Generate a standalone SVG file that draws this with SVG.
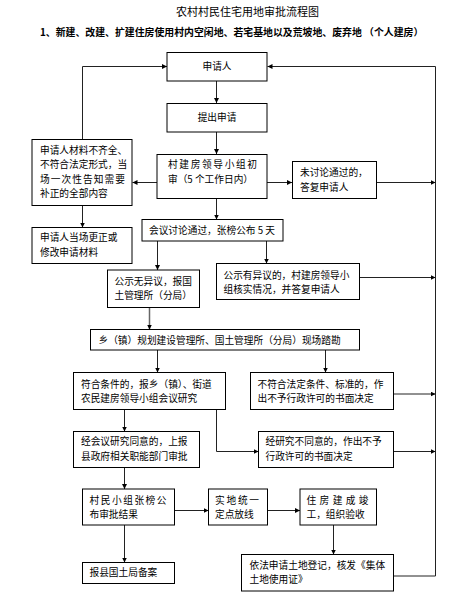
<svg xmlns="http://www.w3.org/2000/svg" width="466" height="608" viewBox="0 0 466 608">
<style>
rect.b{fill:#fff;stroke:#000;stroke-width:1}
text{font-family:"Noto Sans CJK SC","Liberation Sans",sans-serif;font-size:9.7px;fill:#000}
.t{font-size:11px}
.s{font-size:9.9px;font-weight:bold}
.c path,.c line,.c polyline{fill:none;stroke:#222;stroke-width:1}
</style>
<defs>
<marker id="a" markerUnits="userSpaceOnUse" markerWidth="6" markerHeight="6" refX="5" refY="2.5" orient="auto">
<path d="M0,0 L5,2.5 L0,5 z" fill="#000"/>
</marker>
</defs>
<rect width="466" height="608" fill="#fff"/>
<text class="t" x="247.5" y="15.5" text-anchor="middle">农村村民住宅用地审批流程图</text>
<text class="s" x="40" y="35.5">1、新建、改建、扩建住房使用村内空闲地、若宅基地以及荒坡地、废弃地 （个人建房）</text>

<g class="c">
<line x1="216.5" y1="81" x2="216.5" y2="103" marker-end="url(#a)"/>
<line x1="216.5" y1="132" x2="216.5" y2="154" marker-end="url(#a)"/>
<polyline points="82.5,139.5 82.5,66.5 167,66.5" marker-end="url(#a)"/>
<line x1="157" y1="182.5" x2="132.5" y2="182.5" marker-end="url(#a)"/>
<line x1="267" y1="182.5" x2="292" y2="182.5" marker-end="url(#a)"/>
<line x1="376.5" y1="182.5" x2="435.5" y2="182.5" marker-end="url(#a)"/>
<line x1="82.5" y1="205.5" x2="82.5" y2="227.5" marker-end="url(#a)"/>
<line x1="216.5" y1="198.5" x2="216.5" y2="219.5" marker-end="url(#a)"/>
<line x1="157.5" y1="241" x2="157.5" y2="270" marker-end="url(#a)"/>
<line x1="266.5" y1="241" x2="266.5" y2="263.5" marker-end="url(#a)"/>
<line x1="359.5" y1="277.5" x2="435.5" y2="277.5" marker-end="url(#a)"/>
<line x1="149.5" y1="307.5" x2="149.5" y2="329.5" marker-end="url(#a)" style="stroke:#666;stroke-width:1.5"/>
<line x1="157.5" y1="350" x2="157.5" y2="372.5" marker-end="url(#a)"/>
<line x1="325.5" y1="350" x2="325.5" y2="372.5" marker-end="url(#a)"/>
<line x1="393.5" y1="394" x2="435.5" y2="394" marker-end="url(#a)"/>
<line x1="124.5" y1="409.5" x2="124.5" y2="431.5" marker-end="url(#a)"/>
<polyline points="216.5,409.5 216.5,451.5 258.5,451.5" marker-end="url(#a)"/>
<line x1="393.5" y1="451.5" x2="435.5" y2="451.5" marker-end="url(#a)"/>
<line x1="124.5" y1="467.5" x2="124.5" y2="489" marker-end="url(#a)"/>
<line x1="174.5" y1="510.5" x2="208.5" y2="510.5" marker-end="url(#a)"/>
<line x1="267.5" y1="510.5" x2="300" y2="510.5" marker-end="url(#a)"/>
<line x1="333.5" y1="525" x2="333.5" y2="554.5" marker-end="url(#a)"/>
<line x1="124.5" y1="525" x2="124.5" y2="562.5" marker-end="url(#a)"/>
<polyline points="393.5,576 435.5,576 435.5,66.5 267.5,66.5" marker-end="url(#a)"/>
</g>

<g id="n1"><rect class="b" x="167" y="52.5" width="100" height="28.5"/><text x="217" y="70" text-anchor="middle">申请人</text></g>
<g id="n2"><rect class="b" x="167" y="103.5" width="100" height="28.5"/><text x="217" y="121" text-anchor="middle">提出申请</text></g>
<g id="n3"><rect class="b" x="32" y="139.5" width="100" height="66"/>
<text x="40" y="154">申请人材料不齐全、</text>
<text x="40" y="168">不符合法定形式，当</text>
<text x="40" y="182.5" textLength="85" lengthAdjust="spacing">场一次性告知需要</text>
<text x="40" y="196.5">补正的全部内容</text></g>
<g id="n4"><rect class="b" x="157" y="154.5" width="110" height="44"/>
<text x="168" y="168" textLength="89" lengthAdjust="spacing">村建房领导小组初</text>
<text x="168" y="183">审（5 个工作日内）</text></g>
<g id="n5"><rect class="b" x="292.5" y="161.5" width="84" height="37"/>
<text x="300" y="176">未讨论通过的，</text>
<text x="300" y="190.5">答复申请人</text></g>
<g id="n6"><rect class="b" x="32" y="227.5" width="100" height="36"/>
<text x="40" y="241">申请人当场更正或</text>
<text x="40" y="256">修改申请材料</text></g>
<g id="n7"><rect class="b" x="142" y="219.5" width="141" height="21.5"/>
<text x="149" y="233.5">会议讨论通过，张榜公布 5 天</text></g>
<g id="n8"><rect class="b" x="107.5" y="270" width="92" height="37.5"/>
<text x="114.5" y="285">公示无异议，报国</text>
<text x="114.5" y="298.5">土管理所（分局）</text></g>
<g id="n9"><rect class="b" x="216.5" y="263.5" width="143" height="36"/>
<text x="223.5" y="278.5">公示有异议的，村建房领导小</text>
<text x="223.5" y="292.5">组核实情况，并答复申请人</text></g>
<g id="n10"><rect class="b" x="90.5" y="329.5" width="269" height="20.5"/>
<text x="98.5" y="343.5">乡（镇）规划建设管理所、国土管理所（分局）现场踏勘</text></g>
<g id="n11"><rect class="b" x="73.5" y="372.5" width="152" height="37"/>
<text x="81" y="387.5">符合条件的，报乡（镇）、街道</text>
<text x="81" y="401.5">农民建房领导小组会议研究</text></g>
<g id="n12"><rect class="b" x="250.5" y="372.5" width="143" height="37"/>
<text x="257.5" y="387.5">不符合法定条件、标准的，作</text>
<text x="257.5" y="401.5">出不予行政许可的书面决定</text></g>
<g id="n13"><rect class="b" x="73.5" y="431.5" width="126" height="36"/>
<text x="81" y="445">经会议研究同意的，上报</text>
<text x="81" y="460">县政府相关职能部门审批</text></g>
<g id="n14"><rect class="b" x="258.5" y="431.5" width="135" height="36"/>
<text x="265.5" y="445">经研究不同意的，作出不予</text>
<text x="265.5" y="460">行政许可的书面决定</text></g>
<g id="n15"><rect class="b" x="82.5" y="489" width="92" height="36"/>
<text x="89.5" y="504" textLength="77" lengthAdjust="spacing">村民小组张榜公</text>
<text x="89.5" y="517.5">布审批结果</text></g>
<g id="n16"><rect class="b" x="208.5" y="489" width="59" height="36"/>
<text x="215" y="504" textLength="44" lengthAdjust="spacing">实地统一</text>
<text x="215" y="517.5">定点放线</text></g>
<g id="n17"><rect class="b" x="300" y="489" width="76.5" height="36"/>
<text x="306.5" y="504" textLength="62" lengthAdjust="spacing">住房建成竣</text>
<text x="306.5" y="517.5">工，组织验收</text></g>
<g id="n18"><rect class="b" x="241.5" y="554.5" width="152" height="36.5"/>
<text x="249.5" y="569">依法申请土地登记，核发《集体</text>
<text x="249.5" y="582.5">土地使用证》</text></g>
<g id="n19"><rect class="b" x="82.5" y="562.5" width="92" height="21"/>
<text x="89.5" y="576">报县国土局备案</text></g>
</svg>
